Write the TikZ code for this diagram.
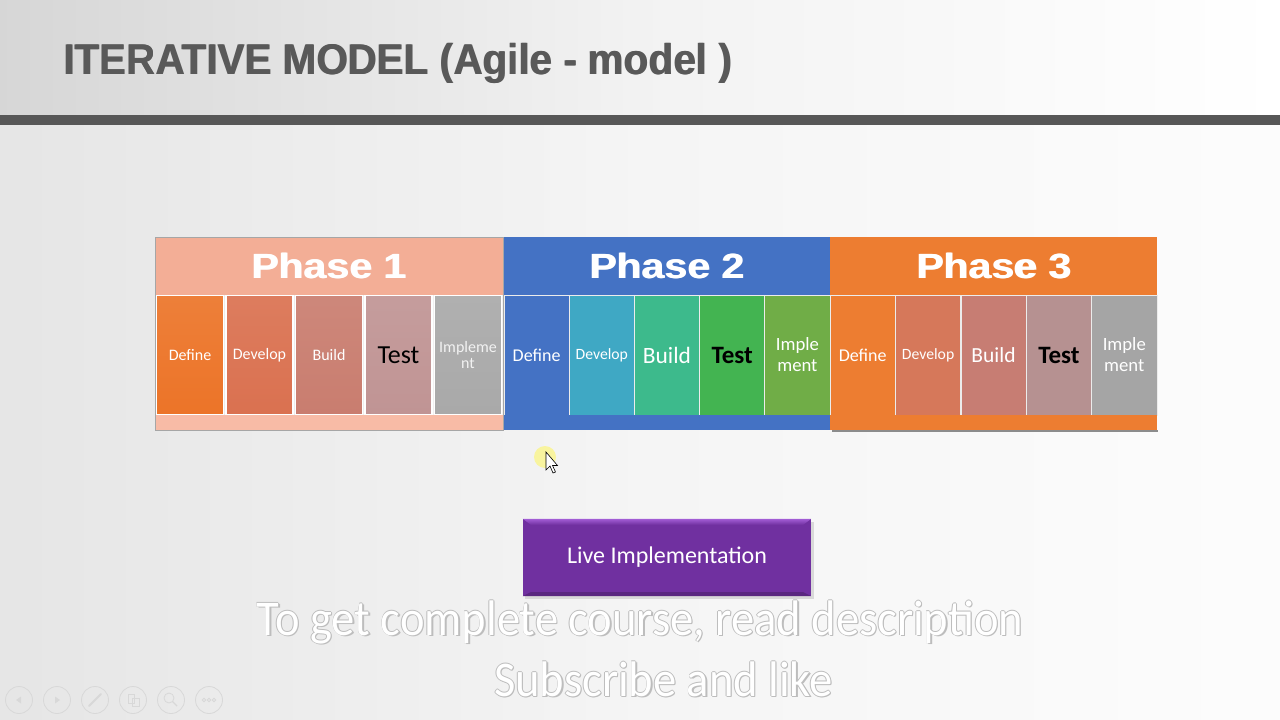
\documentclass[tikz,border=0pt]{standalone}
\usepackage{fontspec}
\setmainfont{Carlito}
\newfontfamily\arialf{Liberation Sans}
\newcommand\heavytxt[1]{\rlap{\kern0.9pt #1}#1}
\definecolor{titlegray}{HTML}{595959}
\definecolor{bargray}{HTML}{575757}
\definecolor{phA}{HTML}{F3AE96}
\definecolor{phAbar}{HTML}{F8BBA6}
\definecolor{phB}{HTML}{4472C4}
\definecolor{phC}{HTML}{ED7D31}
\definecolor{aA}{HTML}{EC7428}
\definecolor{aB}{HTML}{DA7150}
\definecolor{aC}{HTML}{C97D6F}
\definecolor{aD}{HTML}{C09494}
\definecolor{aE}{HTML}{A9A9A9}
\definecolor{bA}{HTML}{4472C4}
\definecolor{bB}{HTML}{3FA8C4}
\definecolor{bC}{HTML}{3DBA8C}
\definecolor{bD}{HTML}{43B451}
\definecolor{bE}{HTML}{70AD47}
\definecolor{cA}{HTML}{ED7D31}
\definecolor{cB}{HTML}{D6785A}
\definecolor{cC}{HTML}{C77D73}
\definecolor{cD}{HTML}{B69191}
\definecolor{cE}{HTML}{A5A5A5}
\definecolor{livepurple}{HTML}{7030A0}
\definecolor{livetop}{HTML}{A35DD6}
\definecolor{ringgray}{HTML}{D8D8D8}
\begin{document}
\begin{tikzpicture}[x=1pt,y=-1pt,
  phasehead/.style={inner sep=0pt, minimum height=58pt, text=white,
    font=\arialf\bfseries\fontsize{35}{35}\selectfont},
  cellA/.style={draw=white, line width=1.6pt, inner sep=0pt, minimum width=67pt,
    minimum height=119pt, align=center, text=white},
  cellB/.style={draw=white!85!gray, line width=0.8pt, inner sep=0pt, minimum width=65.2pt,
    minimum height=120pt, align=center, text=white},
  fs/.style={font=\fontsize{#1}{#1}\selectfont},
  fsb/.style={font=\fontsize{#1}{#1}\selectfont\bfseries},
  bottombar/.style={inner sep=0pt, minimum height=15pt},
  ghost/.style={text=black!26, font=\fontsize{50}{50}\selectfont},
  front/.style={text=white, font=\fontsize{50}{50}\selectfont},
  ring/.style={draw=ringgray, line width=0.8pt}
]
\useasboundingbox (0,0) rectangle (1280,720);
% background
\shade[left color=black!16, right color=white, middle color=black!5] (0,0) rectangle (1280,115);
\shade[left color=black!10, right color=black!1, middle color=black!4] (0,125) rectangle (1280,720);
\fill[bargray] (0,115) rectangle (1280,125);

% title
\node[anchor=west, inner sep=0pt, text=titlegray,
  font=\arialf\bfseries\fontsize{43}{43}\selectfont] (title) at (63,63)
  {\scalebox{0.94}[1]{\heavytxt{ITERATIVE MODEL (Agile - model )}}};

% phase headers
\node[phasehead, fill=phA, minimum width=348pt] (ph1) at (329,266) {\scalebox{1.17}[1]{\heavytxt{Phase 1}}};
\node[phasehead, fill=phB, minimum width=326pt] (ph2) at (667,266) {\scalebox{1.17}[1]{\heavytxt{Phase 2}}};
\node[phasehead, fill=phC, minimum width=327pt] (ph3) at (993.5,266) {\scalebox{1.17}[1]{\heavytxt{Phase 3}}};

% phase 1 cells
\node[cellA, top color=aA!92!white, bottom color=aA, fs=16] (a1) at (190,355) {Define};
\node[cellA, top color=aB!92!white, bottom color=aB, fs=16] (a2) at (259.5,355) {Develop};
\node[cellA, top color=aC!92!white, bottom color=aC, fs=16] (a3) at (329,355) {Build};
\node[cellA, top color=aD!92!white, bottom color=aD, text=black, fs=26] (a4) at (398.5,355) {Test};
\node[cellA, top color=aE!92!white, bottom color=aE, text=white!90!gray,
  font=\fontsize{16}{17}\selectfont] (a5) at (468,355) {Impleme\\nt};
\node[bottombar, fill=phAbar, minimum width=348pt] (bar1) at (329,422.5) {};
\draw[black!35, line width=0.6pt] (ph1.north west) rectangle (bar1.south east);

% phase 2 cells
\node[cellB, fill=bA, fs=18] (b1) at (536.6,355) {Define};
\node[cellB, fill=bB, fs=15.7] (b2) at (601.8,355) {Develop};
\node[cellB, fill=bC, fs=23.4] (b3) at (667,355) {Build};
\node[cellB, fill=bD, text=black, fsb=25] (b4) at (732.2,355) {Test};
\node[cellB, fill=bE, font=\fontsize{18.7}{21}\selectfont] (b5) at (797.4,355) {Imple\\ment};
\node[bottombar, fill=phB, minimum width=326pt] (bar2) at (667,422.5) {};

% phase 3 cells
\node[cellB, fill=cA, fs=18] (c1) at (862.7,355) {Define};
\node[cellB, fill=cB, fs=15.7] (c2) at (928.1,355) {Develop};
\node[cellB, fill=cC, fs=21.5] (c3) at (993.5,355) {Build};
\node[cellB, fill=cD, text=black, fsb=25] (c4) at (1058.9,355) {Test};
\node[cellB, fill=cE, font=\fontsize{18.7}{21}\selectfont] (c5) at (1124.3,355) {Imple\\ment};
\fill[black!45] (832,430) rectangle (1158,432);
\node[bottombar, fill=phC, minimum width=327pt] (bar3) at (993.5,422.5) {};

% live implementation
\fill[black!15] (525,522) rectangle (814,599);
\node[fill=livepurple, minimum width=288pt, minimum height=77pt, inner sep=0pt, text=white,
  font=\fontsize{24}{24}\selectfont] (live) at (667,557.5) {Live Implementation};
\shade[top color=livetop, bottom color=livepurple] (live.north west) -- (live.north east)
  -- ([xshift=-8pt,yshift=-6pt]live.north east) -- ([xshift=8pt,yshift=-6pt]live.north west) -- cycle;
\fill[livepurple!80!black] (live.south west) -- ([xshift=8pt,yshift=4pt]live.south west)
  -- ([xshift=-8pt,yshift=4pt]live.south east) -- (live.south east) -- cycle;

% cursor
\fill[yellow!70!white, opacity=0.5] (545,457) circle (11);
\filldraw[fill=white, draw=black, line width=0.6pt] (546,452) -- (546,470) -- (550,466) -- (553,473)
  -- (555.5,472) -- (552.5,465.5) -- (557.5,465.5) -- cycle;

% watermark text
\foreach \dx/\dy [count=\k] in {-0.9/0,0.9/0,0/-0.9,0/0.9,1.2/1.2}{
  \node[ghost] (g1s\k) at (640+\dx,622+\dy) {\scalebox{0.93}[1]{To get complete course, read description}};
  \node[ghost] (g2s\k) at (663.5+\dx,679+\dy) {\scalebox{0.93}[1]{Subscribe and like}};
}
\node[front] (wm1) at (640,622) {\scalebox{0.93}[1]{To get complete course, read description}};
\node[front] (wm2) at (663.5,679) {\scalebox{0.93}[1]{Subscribe and like}};

% toolbar
\foreach \cx [count=\k] in {19,57,95,133,171,209}{
  \draw[ring] (\cx,700) circle (13.5);
}
\fill[ringgray] (16,700) -- (21,696.5) -- (21,703.5) -- cycle;
\fill[ringgray] (60,700) -- (55,696.5) -- (55,703.5) -- cycle;
\draw[ringgray, line width=2pt, line cap=round] (89,706) -- (101,694);
\draw[ring] (128,694) rectangle (134,703); \draw[ring] (132,698) rectangle (139,706);
\draw[ring] (169,698) circle (5); \draw[ringgray, line width=1.4pt] (172.5,701.5) -- (177,706);
\draw[ring] (204,700) circle (1.8); \draw[ring] (209,700) circle (1.8); \draw[ring] (214,700) circle (1.8);
\end{tikzpicture}
\end{document}
